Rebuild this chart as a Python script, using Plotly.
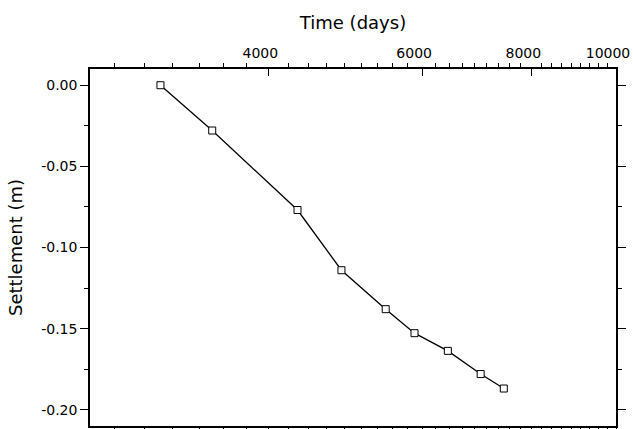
import math
import plotly.graph_objects as go

# Data
time_days = [3010, 3450, 4320, 4850, 5450, 5880, 6420, 7000, 7440]
settlement_m = [0.0, -0.0279, -0.0769, -0.114, -0.138, -0.1528, -0.1637, -0.178, -0.1869]

x_tickvals = [4000, 6000, 8000, 10000]
x_ticktext = ["4000", "6000", "8000", "10000"]
y_tickvals = [0.0, -0.05, -0.10, -0.15, -0.20]
y_ticktext = ["0.00", "-0.05", "-0.10", "-0.15", "-0.20"]

x_range = [2500, 10000]
y_range = [-0.21, 0.01]

# minor ticks: 8 minor ticks between majors (step 2000/9)
x_minor = []
for k in range(2, 10, 2):
    base = k * 1000
    for j in range(1, 9):
        v = base + j * 2000 / 9
        if x_range[0] <= v <= x_range[1]:
            x_minor.append(v)

FONT = "DejaVu Sans"
log_range = [math.log10(x_range[0]), math.log10(x_range[1])]

fig = go.Figure()
fig.add_trace(go.Scatter(
    x=time_days, y=settlement_m,
    mode="lines+markers",
    line=dict(color="black", width=1.3),
    marker=dict(symbol="square", size=7, color="white",
                line=dict(color="black", width=1)),
    showlegend=False,
))
# invisible companion trace so the mirrored bottom axis is drawn
fig.add_trace(go.Scatter(
    x=time_days, y=settlement_m, xaxis="x2",
    mode="markers", marker=dict(opacity=0),
    hoverinfo="skip", showlegend=False,
))

axis_common = dict(
    type="log",
    range=log_range,
    tickmode="array",
    tickvals=x_tickvals,
    showline=True,
    linecolor="black",
    linewidth=1.5,
    tickcolor="black",
    tickwidth=1.3,
    ticklen=7,
    showgrid=False,
    zeroline=False,
    automargin=False,
    minor=dict(tickmode="array", tickvals=x_minor, ticklen=4,
               tickcolor="black", tickwidth=1.2, showgrid=False),
)

fig.update_layout(
    width=633, height=429,
    margin=dict(l=90, r=17, t=69, b=3),
    paper_bgcolor="white",
    plot_bgcolor="white",
    font=dict(family=FONT, color="black", size=14),
    xaxis=dict(
        **axis_common,
        side="top",
        ticks="inside",
        ticktext=x_ticktext,
        ticklabelshift=-8,
        ticklabelstandoff=4,
        title=dict(text="Time (days)", font=dict(size=18, family=FONT), standoff=10),
        tickfont=dict(size=14, family=FONT),
    ),
    xaxis2=dict(
        **axis_common,
        side="bottom",
        overlaying="x",
        anchor="y",
        ticks="outside",
        showticklabels=False,
    ),
    yaxis=dict(
        range=y_range,
        tickmode="array",
        tickvals=y_tickvals,
        ticktext=y_ticktext,
        ticks="outside",
        ticklen=8,
        tickwidth=1.3,
        tickcolor="black",
        showline=True,
        linecolor="black",
        linewidth=1.5,
        mirror="ticks",
        showgrid=False,
        zeroline=False,
        automargin=False,
        tickfont=dict(size=14, family=FONT),
        minor=dict(dtick=0.025, tick0=0, ticks="outside", ticklen=4,
                   tickcolor="black", tickwidth=1.2, showgrid=False),
        title=dict(text="Settlement (m)", font=dict(size=18, family=FONT), standoff=14),
    ),
)

fig.write_html("out.html")
